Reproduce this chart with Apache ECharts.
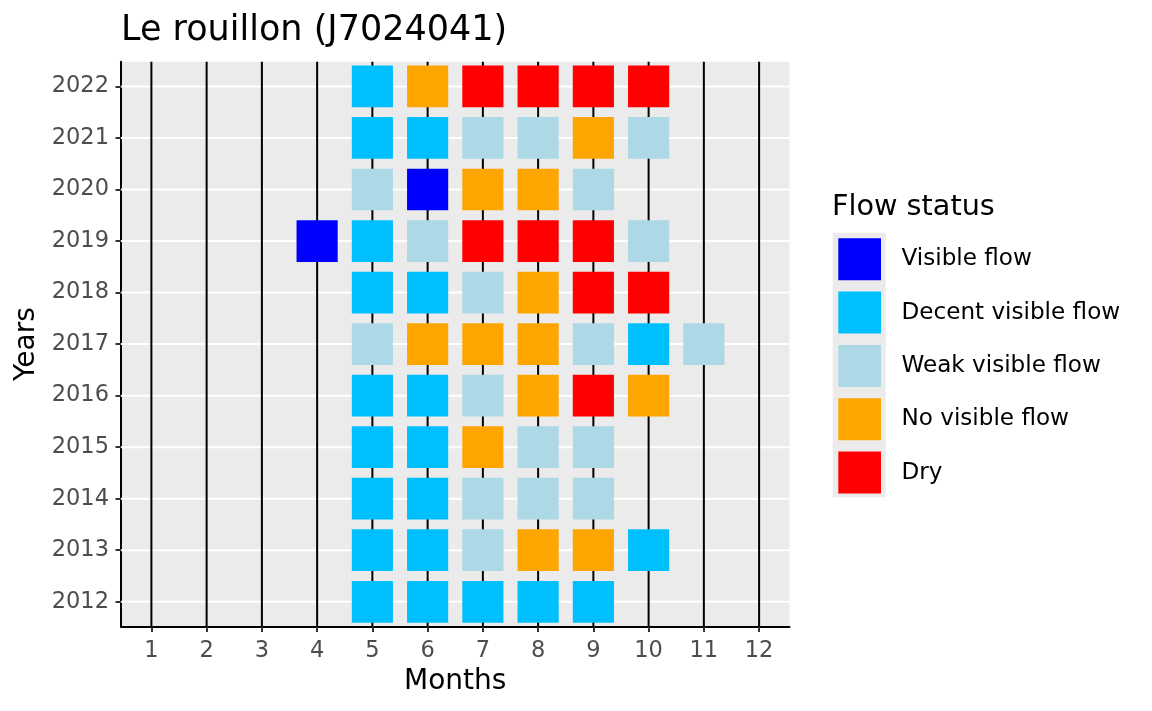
<!DOCTYPE html>
<html>
<head>
<meta charset="utf-8">
<script src="https://cdn.jsdelivr.net/npm/echarts@6/dist/echarts.min.js"></script>
<style>html,body{margin:0;padding:0;background:#fff;}#chart{width:1152px;height:711px;}</style>
</head>
<body>
<div id="chart"></div>
<script>
const months = [1,2,3,4,5,6,7,8,9,10,11,12];
const years = [2012,2013,2014,2015,2016,2017,2018,2019,2020,2021,2022];
const statusNames = ['Visible flow','Decent visible flow','Weak visible flow','No visible flow','Dry'];
const statusColors = ['#0000FF','#00BFFF','#ADD8E6','#FFA500','#FF0000'];
// Observations (V = visible, D = decent, W = weak, N = no visible flow, R = dry)
const obsYear = [
  2022,2022,2022,2022,2022,2022,
  2021,2021,2021,2021,2021,2021,
  2020,2020,2020,2020,2020,
  2019,2019,2019,2019,2019,2019,2019,
  2018,2018,2018,2018,2018,2018,
  2017,2017,2017,2017,2017,2017,2017,
  2016,2016,2016,2016,2016,2016,
  2015,2015,2015,2015,2015,
  2014,2014,2014,2014,2014,
  2013,2013,2013,2013,2013,2013,
  2012,2012,2012,2012,2012
];
const obsMonth = [
  5,6,7,8,9,10,
  5,6,7,8,9,10,
  5,6,7,8,9,
  4,5,6,7,8,9,10,
  5,6,7,8,9,10,
  5,6,7,8,9,10,11,
  5,6,7,8,9,10,
  5,6,7,8,9,
  5,6,7,8,9,
  5,6,7,8,9,10,
  5,6,7,8,9
];
const obsStatus = [
  'D','N','R','R','R','R',
  'D','D','W','W','N','W',
  'W','V','N','N','W',
  'V','D','W','R','R','R','W',
  'D','D','W','N','R','R',
  'W','N','N','N','W','D','W',
  'D','D','W','N','R','N',
  'D','D','N','W','W',
  'D','D','W','W','W',
  'D','D','W','N','N','D',
  'D','D','D','D','D'
];
const statusCodes = ['V','D','W','N','R'];

const FONT = 'DejaVu Sans';
const TILE_W = 0.745, TILE_H = 0.81;

function tileRender(params, api) {
  const x = api.value(0), y = api.value(1);
  const p1 = api.coord([x - TILE_W / 2, y + TILE_H / 2]);
  const p2 = api.coord([x + TILE_W / 2, y - TILE_H / 2]);
  return {
    type: 'rect',
    shape: { x: p1[0], y: p1[1], width: p2[0] - p1[0], height: p2[1] - p1[1] },
    style: { fill: api.visual('color') }
  };
}

const tileSeries = statusCodes.map((code, i) => {
  const data = [];
  obsStatus.forEach((s, k) => { if (s === code) data.push([obsMonth[k], obsYear[k]]); });
  return {
    name: statusNames[i],
    type: 'custom',
    z: 5,
    itemStyle: { color: statusColors[i] },
    encode: { x: 0, y: 1 },
    renderItem: tileRender,
    data: data
  };
});

const hLines = {
  type: 'custom', z: 1, silent: true,
  encode: { x: 0, y: 1 },
  data: years.map(y => [months[0], y]),
  renderItem: function (params, api) {
    const cs = params.coordSys;
    const y = api.coord([months[0], api.value(1)])[1];
    return { type: 'line', shape: { x1: cs.x, y1: y, x2: cs.x + cs.width, y2: y },
      style: { stroke: '#FFFFFF', lineWidth: 2 } };
  }
};
const vLines = {
  type: 'custom', z: 2, silent: true,
  encode: { x: 0, y: 1 },
  data: months.map(m => [m, years[0]]),
  renderItem: function (params, api) {
    const cs = params.coordSys;
    const x = api.coord([api.value(0), years[0]])[0];
    return { type: 'line', shape: { x1: x, y1: cs.y, x2: x, y2: cs.y + cs.height },
      style: { stroke: '#000000', lineWidth: 2 } };
  }
};

const chart = echarts.init(document.getElementById('chart'), null, { renderer: 'canvas' });
chart.setOption({
  animation: false,
  backgroundColor: '#FFFFFF',
  textStyle: { fontFamily: FONT },
  title: [
    { text: 'Le rouillon (J7024041)', left: 121, top: 13, padding: 0,
      textStyle: { fontFamily: FONT, fontSize: 35, fontWeight: 'normal', color: '#000' } },
    { text: 'Flow status', left: 832, top: 193, padding: 0,
      textStyle: { fontFamily: FONT, fontSize: 28.7, fontWeight: 'normal', color: '#000' } }
  ],
  graphic: [
    { type: 'rect', left: 832.7, top: 232.7, z: 0, silent: true,
      shape: { width: 53, height: 264.6 }, style: { fill: '#EBEBEB' } }
  ],
  legend: {
    data: statusNames,
    orient: 'vertical',
    left: 838.3, top: 238.3,
    padding: 0,
    itemWidth: 42.7, itemHeight: 42,
    itemGap: 11.3,
    icon: 'rect',
    selectedMode: false,
    z: 10,
    textStyle: { fontFamily: FONT, fontSize: 23.1, color: '#000', padding: [0, 0, 0, 15.5] }
  },
  grid: { left: 121, right: 362.5, top: 61.7, bottom: 84.5, show: true,
    backgroundColor: '#EBEBEB', borderWidth: 0 },
  xAxis: {
    type: 'value', min: 0.45, max: 12.55,
    name: 'Months', nameLocation: 'middle', nameGap: 39.5,
    nameTextStyle: { fontFamily: FONT, fontSize: 28, color: '#000' },
    axisLine: { show: true, onZero: false, lineStyle: { color: '#000', width: 2 } },
    axisTick: { show: true, length: 5.5, customValues: months, lineStyle: { color: '#333', width: 2 } },
    axisLabel: { customValues: months, margin: 13.5, fontFamily: FONT, fontSize: 22.5, color: '#4D4D4D',
      formatter: v => String(v) },
    splitLine: { show: false }
  },
  yAxis: {
    type: 'value', min: 2011.52, max: 2022.48,
    name: 'Years', nameLocation: 'middle', nameGap: 80, nameRotate: 90,
    nameTextStyle: { fontFamily: FONT, fontSize: 28, color: '#000' },
    axisLine: { show: true, onZero: false, lineStyle: { color: '#000', width: 2 } },
    axisTick: { show: true, length: 5.5, customValues: years, lineStyle: { color: '#333', width: 2 } },
    axisLabel: { customValues: years, margin: 12, fontFamily: FONT, fontSize: 22.5, color: '#4D4D4D',
      formatter: v => String(v) },
    splitLine: { show: false }
  },
  series: [hLines, vLines].concat(tileSeries)
});
</script>
</body>
</html>
